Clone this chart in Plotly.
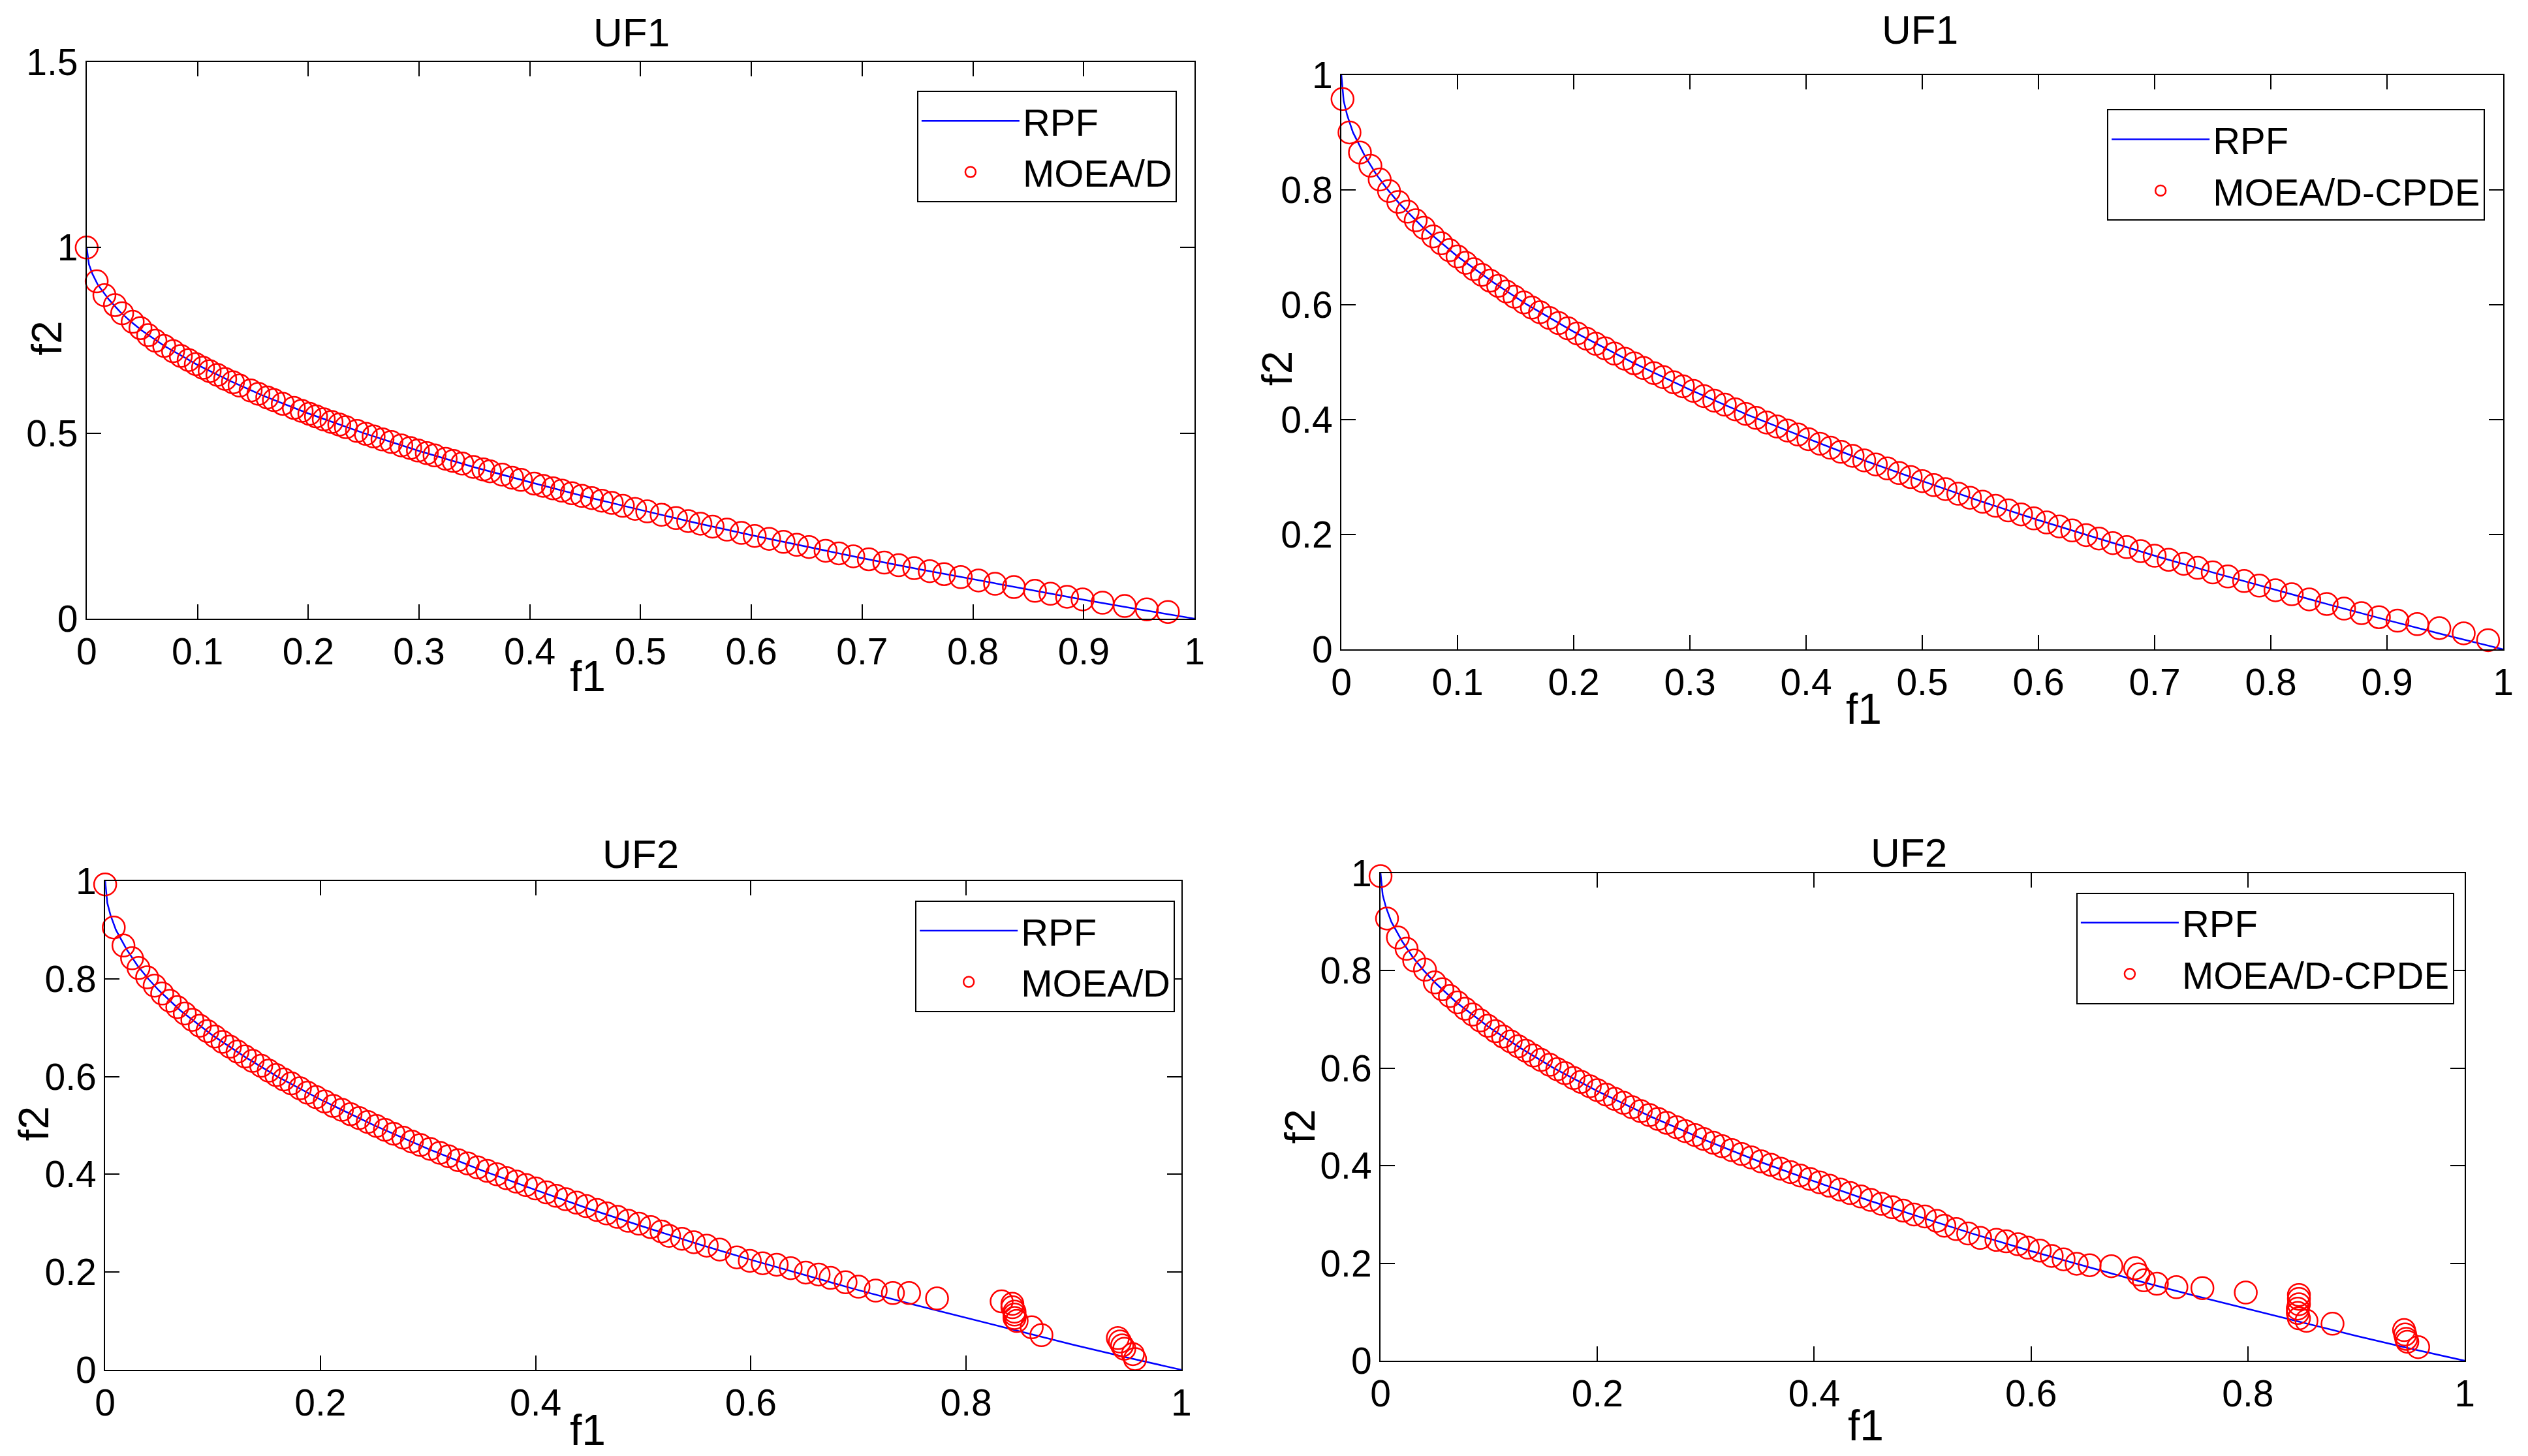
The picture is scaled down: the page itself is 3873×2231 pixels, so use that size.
import plotly.graph_objects as go

# ---- data ----
# reference Pareto front (same curve in all four panels)
rpf_f1 = [0, 0.002, 0.005, 0.01, 0.02, 0.03, 0.04, 0.05, 0.07, 0.1, 0.13, 0.16, 0.2, 0.25, 0.3,
          0.35, 0.4, 0.45, 0.5, 0.55, 0.6, 0.65, 0.7, 0.75, 0.8, 0.85, 0.9, 0.95, 1.0]
rpf_f2 = [1.0, 0.955, 0.93, 0.9, 0.86, 0.827, 0.8, 0.776, 0.735, 0.684, 0.64, 0.6, 0.553, 0.5, 0.452,
          0.408, 0.368, 0.329, 0.293, 0.258, 0.225, 0.194, 0.163, 0.134, 0.106, 0.078, 0.051, 0.025, 0.0]

# UF1, MOEA/D
uf1_moead_f1 = [0.000, 0.009, 0.016, 0.0255, 0.032, 0.0415, 0.0485, 0.0555, 0.062, 0.070,
                0.078, 0.085, 0.092, 0.0985, 0.105, 0.111, 0.118, 0.125, 0.132, 0.138,
                0.148, 0.155, 0.163, 0.169, 0.177, 0.187, 0.194, 0.201, 0.207, 0.214,
                0.221, 0.228, 0.234, 0.244, 0.252, 0.259, 0.267, 0.275, 0.284, 0.292,
                0.299, 0.307, 0.314, 0.324, 0.331, 0.339, 0.349, 0.358, 0.364, 0.375,
                0.384, 0.392, 0.404, 0.412, 0.421, 0.429, 0.438, 0.447, 0.456, 0.465,
                0.474, 0.484, 0.495, 0.506, 0.519, 0.532, 0.543, 0.554, 0.565, 0.578,
                0.591, 0.603, 0.616, 0.629, 0.641, 0.652, 0.667, 0.679, 0.692, 0.706,
                0.720, 0.733, 0.747, 0.761, 0.774, 0.789, 0.805, 0.820, 0.837, 0.856,
                0.870, 0.885, 0.899, 0.917, 0.937, 0.957, 0.976]
uf1_moead_f2 = [1.000, 0.909, 0.872, 0.845, 0.823, 0.800, 0.783, 0.764, 0.749, 0.735,
                0.721, 0.708, 0.697, 0.686, 0.676, 0.667, 0.657, 0.646, 0.637, 0.628,
                0.615, 0.606, 0.596, 0.589, 0.579, 0.568, 0.560, 0.552, 0.545, 0.537,
                0.530, 0.523, 0.516, 0.506, 0.498, 0.491, 0.483, 0.476, 0.467, 0.460,
                0.453, 0.446, 0.440, 0.431, 0.425, 0.418, 0.409, 0.402, 0.397, 0.388,
                0.380, 0.374, 0.364, 0.358, 0.351, 0.345, 0.338, 0.331, 0.325, 0.318,
                0.312, 0.304, 0.296, 0.289, 0.280, 0.271, 0.263, 0.256, 0.248, 0.240,
                0.231, 0.223, 0.215, 0.207, 0.199, 0.193, 0.183, 0.176, 0.168, 0.160,
                0.151, 0.144, 0.136, 0.128, 0.120, 0.112, 0.103, 0.094, 0.085, 0.075,
                0.067, 0.059, 0.052, 0.043, 0.034, 0.025, 0.018]

# UF1, MOEA/D-CPDE
uf1_cpde_f1 = [0.001, 0.007, 0.016, 0.025, 0.033, 0.041, 0.049, 0.057, 0.064, 0.071,
               0.079, 0.086, 0.093, 0.100, 0.107, 0.114, 0.121, 0.128, 0.135, 0.142,
               0.149, 0.157, 0.164, 0.171, 0.179, 0.187, 0.195, 0.203, 0.211, 0.219,
               0.227, 0.235, 0.244, 0.252, 0.260, 0.269, 0.277, 0.286, 0.294, 0.303,
               0.312, 0.321, 0.330, 0.339, 0.348, 0.357, 0.366, 0.375, 0.384, 0.393,
               0.402, 0.412, 0.421, 0.430, 0.440, 0.450, 0.460, 0.470, 0.480, 0.490,
               0.500, 0.510, 0.520, 0.531, 0.541, 0.552, 0.563, 0.574, 0.585, 0.596,
               0.607, 0.618, 0.629, 0.641, 0.652, 0.664, 0.676, 0.688, 0.700, 0.712,
               0.725, 0.737, 0.750, 0.763, 0.777, 0.790, 0.804, 0.818, 0.833, 0.848,
               0.863, 0.878, 0.893, 0.909, 0.926, 0.945, 0.966, 0.987]
uf1_cpde_f2 = [0.958, 0.900, 0.865, 0.842, 0.818, 0.798, 0.779, 0.762, 0.747, 0.734,
               0.719, 0.707, 0.695, 0.684, 0.673, 0.662, 0.652, 0.642, 0.633, 0.623,
               0.614, 0.604, 0.595, 0.587, 0.577, 0.568, 0.559, 0.550, 0.541, 0.532,
               0.524, 0.515, 0.506, 0.498, 0.490, 0.481, 0.474, 0.465, 0.458, 0.450,
               0.441, 0.433, 0.426, 0.418, 0.410, 0.403, 0.395, 0.388, 0.381, 0.374,
               0.366, 0.358, 0.351, 0.344, 0.337, 0.329, 0.322, 0.315, 0.307, 0.300,
               0.293, 0.286, 0.279, 0.271, 0.264, 0.257, 0.250, 0.242, 0.235, 0.228,
               0.221, 0.214, 0.207, 0.199, 0.193, 0.185, 0.178, 0.171, 0.163, 0.156,
               0.149, 0.142, 0.134, 0.127, 0.119, 0.111, 0.103, 0.096, 0.087, 0.079,
               0.071, 0.063, 0.056, 0.050, 0.044, 0.037, 0.028, 0.016]

# UF2, MOEA/D
uf2_moead_f1 = [0.000, 0.008, 0.017, 0.025, 0.031, 0.039, 0.046, 0.053, 0.060, 0.067,
                0.074, 0.081, 0.088, 0.095, 0.102, 0.109, 0.116, 0.123, 0.130, 0.137,
                0.145, 0.152, 0.159, 0.166, 0.173, 0.181, 0.188, 0.196, 0.204, 0.212,
                0.220, 0.228, 0.236, 0.244, 0.252, 0.260, 0.268, 0.277, 0.285, 0.293,
                0.302, 0.311, 0.319, 0.328, 0.337, 0.346, 0.355, 0.364, 0.373, 0.382,
                0.391, 0.400, 0.410, 0.419, 0.428, 0.438, 0.447, 0.457, 0.466, 0.476,
                0.486, 0.496, 0.507, 0.517, 0.524, 0.536, 0.547, 0.559, 0.571, 0.587,
                0.599, 0.611, 0.624, 0.637, 0.651, 0.663, 0.674, 0.688, 0.700, 0.716,
                0.732, 0.747, 0.773, 0.833, 0.843, 0.843, 0.845, 0.845, 0.845, 0.847,
                0.861, 0.870, 0.941, 0.943, 0.945, 0.947, 0.955, 0.957]
uf2_moead_f2 = [0.993, 0.905, 0.868, 0.842, 0.822, 0.803, 0.786, 0.770, 0.755, 0.742,
                0.729, 0.716, 0.704, 0.693, 0.682, 0.671, 0.661, 0.651, 0.641, 0.632,
                0.622, 0.612, 0.603, 0.594, 0.586, 0.576, 0.567, 0.558, 0.549, 0.540,
                0.532, 0.523, 0.515, 0.507, 0.499, 0.491, 0.483, 0.475, 0.467, 0.460,
                0.452, 0.444, 0.437, 0.429, 0.422, 0.414, 0.407, 0.400, 0.392, 0.385,
                0.378, 0.371, 0.363, 0.356, 0.349, 0.342, 0.335, 0.327, 0.320, 0.313,
                0.305, 0.299, 0.292, 0.283, 0.274, 0.268, 0.261, 0.254, 0.246, 0.230,
                0.223, 0.218, 0.215, 0.208, 0.199, 0.195, 0.188, 0.179, 0.170, 0.162,
                0.157, 0.157, 0.146, 0.140, 0.135, 0.128, 0.119, 0.113, 0.106, 0.100,
                0.087, 0.071, 0.065, 0.058, 0.050, 0.043, 0.032, 0.022]

# UF2, MOEA/D-CPDE
uf2_cpde_f1 = [0.000, 0.006, 0.016, 0.024, 0.031, 0.041, 0.050, 0.057, 0.064, 0.071,
               0.078, 0.085, 0.092, 0.099, 0.106, 0.113, 0.120, 0.127, 0.134, 0.141,
               0.148, 0.156, 0.163, 0.170, 0.178, 0.185, 0.193, 0.200, 0.208, 0.216,
               0.224, 0.232, 0.240, 0.248, 0.256, 0.264, 0.273, 0.281, 0.290, 0.298,
               0.307, 0.315, 0.324, 0.333, 0.342, 0.351, 0.360, 0.369, 0.378, 0.387,
               0.396, 0.405, 0.414, 0.424, 0.433, 0.443, 0.452, 0.462, 0.472, 0.482,
               0.492, 0.502, 0.513, 0.520, 0.531, 0.542, 0.553, 0.568, 0.577, 0.588,
               0.597, 0.608, 0.619, 0.630, 0.642, 0.654, 0.674, 0.696, 0.699, 0.704,
               0.716, 0.734, 0.758, 0.798, 0.847, 0.847, 0.847, 0.846, 0.846, 0.847,
               0.854, 0.878, 0.944, 0.945, 0.946, 0.947, 0.957]
uf2_cpde_f2 = [0.994, 0.907, 0.868, 0.845, 0.821, 0.802, 0.776, 0.762, 0.748, 0.735,
               0.722, 0.710, 0.698, 0.687, 0.676, 0.665, 0.655, 0.645, 0.636, 0.626,
               0.617, 0.607, 0.598, 0.590, 0.580, 0.572, 0.563, 0.555, 0.546, 0.537,
               0.529, 0.520, 0.512, 0.504, 0.496, 0.488, 0.479, 0.471, 0.463, 0.455,
               0.447, 0.440, 0.432, 0.424, 0.417, 0.409, 0.402, 0.394, 0.387, 0.380,
               0.373, 0.366, 0.359, 0.351, 0.344, 0.337, 0.330, 0.322, 0.315, 0.308,
               0.300, 0.296, 0.287, 0.277, 0.270, 0.261, 0.252, 0.248, 0.245, 0.239,
               0.232, 0.226, 0.215, 0.208, 0.199, 0.196, 0.194, 0.190, 0.177, 0.165,
               0.158, 0.151, 0.149, 0.140, 0.135, 0.127, 0.116, 0.107, 0.098, 0.087,
               0.082, 0.076, 0.063, 0.054, 0.045, 0.039, 0.028]

FONT = "Liberation Sans, Arial, sans-serif"
W, H = 3873, 2231
# the page body adds a small offset; pull everything back by that much
DX, DY = -8 / W, 8 / H

# panel layout: (title, algo name, f1, f2, x domain, y domain, y max, x dtick, y dtick,
#                title pos, f1 label pos, f2 label pos, legend pos)
panels = [
    ("UF1", "MOEA/D", uf1_moead_f1, uf1_moead_f2, [0.0343, 0.4725], [0.5751, 0.9574], 1.5, 0.1, 0.5,
     (0.2499, 0.9776), (0.2326, 0.5356), (0.0185, 0.7678), (0.4655, 0.9377)),
    ("UF1", "MOEA/D-CPDE", uf1_cpde_f1, uf1_cpde_f2, [0.5306, 0.9902], [0.5540, 0.9485], 1.0, 0.1, 0.2,
     (0.7596, 0.9798), (0.7374, 0.5132), (0.5053, 0.7467), (0.9830, 0.9250)),
    ("UF2", "MOEA/D", uf2_moead_f1, uf2_moead_f2, [0.0416, 0.4673], [0.0592, 0.3949], 1.0, 0.2, 0.2,
     (0.2533, 0.4133), (0.2326, 0.0180), (0.0135, 0.2281), (0.4648, 0.3815)),
    ("UF2", "MOEA/D-CPDE", uf2_cpde_f1, uf2_cpde_f2, [0.5461, 0.9750], [0.0654, 0.4003], 1.0, 0.2, 0.2,
     (0.7552, 0.4146), (0.7380, 0.0211), (0.5143, 0.2264), (0.9708, 0.3870)),
]


def px(p):
    return (p[0] + DX, p[1] + DY)


fig = go.Figure()
annotations = []
layout = {}

for i, (title, algo, f1, f2, xdom, ydom, ymax, xdt, ydt, tpos, xlpos, ylpos, lpos) in enumerate(panels, start=1):
    sfx = "" if i == 1 else str(i)
    leg = "legend" + sfx
    fig.add_trace(go.Scatter(x=rpf_f1, y=rpf_f2, mode="lines", name="RPF",
                             line=dict(color="#0000ff", width=2.5),
                             xaxis="x" + sfx, yaxis="y" + sfx, legend=leg))
    fig.add_trace(go.Scatter(x=f1, y=f2, mode="markers", name=algo,
                             marker=dict(symbol="circle-open", size=34, color="#ff0000",
                                         line=dict(width=2.5)),
                             cliponaxis=False,
                             xaxis="x" + sfx, yaxis="y" + sfx, legend=leg))
    common = dict(showline=True, linecolor="black", linewidth=2, mirror="allticks",
                  ticks="inside", ticklen=22, tickwidth=2, tickcolor="black",
                  showgrid=False, zeroline=False, tickmode="linear", tick0=0,
                  automargin=False,
                  tickfont=dict(family=FONT, size=57, color="black"))
    layout["xaxis" + sfx] = dict(common, domain=[xdom[0] + DX, xdom[1] + DX], range=[0, 1],
                                 dtick=xdt, anchor="y" + sfx)
    layout["yaxis" + sfx] = dict(common, domain=[ydom[0] + DY, ydom[1] + DY], range=[0, ymax],
                                 dtick=ydt, anchor="x" + sfx)
    lx, ly = px(lpos)
    layout[leg] = dict(x=lx, y=ly, xanchor="right", yanchor="top",
                       bgcolor="white", bordercolor="black", borderwidth=2,
                       font=dict(family=FONT, size=58, color="black"),
                       itemwidth=150, tracegroupgap=0)
    tx, ty = px(tpos)
    annotations.append(dict(text=title, x=tx, y=ty, xref="paper", yref="paper",
                            showarrow=False, xanchor="center", yanchor="middle",
                            font=dict(family=FONT, size=62, color="black")))
    fx, fy = px(xlpos)
    annotations.append(dict(text="f1", x=fx, y=fy, xref="paper", yref="paper",
                            showarrow=False, xanchor="center", yanchor="middle",
                            font=dict(family=FONT, size=66, color="black")))
    gx, gy = px(ylpos)
    annotations.append(dict(text="f2", x=gx, y=gy, xref="paper", yref="paper",
                            showarrow=False, xanchor="center", yanchor="middle", textangle=-90,
                            font=dict(family=FONT, size=64, color="black")))

fig.update_layout(**layout)
fig.update_layout(template="none", width=W, height=H, autosize=False,
                  margin=dict(l=0, r=0, t=0, b=0, autoexpand=False),
                  paper_bgcolor="white", plot_bgcolor="white",
                  showlegend=True, annotations=annotations,
                  font=dict(family=FONT, color="black"))

fig.write_html("out.html")
